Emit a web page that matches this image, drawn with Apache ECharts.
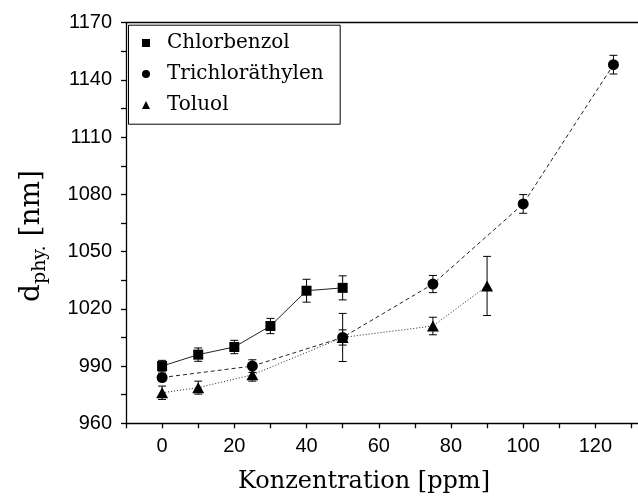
<!DOCTYPE html>
<html>
<head>
<meta charset="utf-8">
<script src="https://cdn.jsdelivr.net/npm/echarts@6/dist/echarts.min.js"></script>
<style>
  html, body { margin: 0; padding: 0; background: #fff; }
  #chart { width: 638px; height: 502px; }
</style>
</head>
<body>
<div id="chart"></div>
<script>
// Particle diameter vs. solvent concentration, three solvents, with error bars
const seriesNames = ['Chlorbenzol', 'Trichloräthylen', 'Toluol'];

const chlorConc = [0, 10, 20, 30, 40, 50];
const chlorDiam = [990, 996, 1000, 1011, 1029.5, 1031];
const chlorErr  = [3, 3.5, 3.5, 4, 6, 6.3];

const triConc = [0, 25, 50, 75, 100, 125];
const triDiam = [984, 990, 1005, 1033, 1075, 1148];
const triErr  = [2, 3.3, 12.6, 4.5, 4.9, 4.9];

const tolConc = [0, 10, 25, 50, 75, 90];
const tolDiam = [976, 978.7, 985.4, 1005, 1011, 1032];
const tolErr  = [3.5, 3.4, 3.3, 4, 4.6, 15.5];

// axis ticks and labels
const xTicks  = [-10, 0, 10, 20, 30, 40, 50, 60, 70, 80, 90, 100, 110, 120, 130];
const xLabels = [0, 20, 40, 60, 80, 100, 120];
const yTicks  = [960, 975, 990, 1005, 1020, 1035, 1050, 1065, 1080, 1095, 1110, 1125, 1140, 1155, 1170];
const yLabels = [960, 990, 1020, 1050, 1080, 1110, 1140, 1170];

const serif = 'DejaVu Serif';
const sans = 'Liberation Sans';
const ink = '#000';
const lineInk = '#222';

function pairs(xs, ys) { return xs.map((x, i) => [x, ys[i]]); }
function bars(xs, ys, es) { return xs.map((x, i) => [x, ys[i] - es[i], ys[i] + es[i]]); }

function renderErrorBar(params, api) {
  const x = api.value(0);
  const lo = api.coord([x, api.value(1)]);
  const hi = api.coord([x, api.value(2)]);
  const cap = 4;
  const style = { stroke: ink, lineWidth: 1 };
  return {
    type: 'group',
    children: [
      { type: 'line', shape: { x1: lo[0], y1: lo[1], x2: hi[0], y2: hi[1] }, style },
      { type: 'line', shape: { x1: lo[0] - cap, y1: lo[1], x2: lo[0] + cap, y2: lo[1] }, style },
      { type: 'line', shape: { x1: hi[0] - cap, y1: hi[1], x2: hi[0] + cap, y2: hi[1] }, style }
    ]
  };
}

function errorSeries(xs, ys, es) {
  return {
    type: 'custom',
    renderItem: renderErrorBar,
    data: bars(xs, ys, es),
    encode: { x: 0, y: [1, 2] },
    silent: true,
    z: 3
  };
}

const plain = v => String(v);

const chart = echarts.init(document.getElementById('chart'), null, { renderer: 'canvas' });

chart.setOption({
  animation: false,
  backgroundColor: '#fff',
  grid: { left: 126, top: 22.7, right: 0, bottom: 78.7, containLabel: false },
  graphic: [{
    type: 'rect',
    left: 126, top: 22.7,
    shape: { width: 211.7, height: 99 },
    style: { fill: 'none', stroke: ink, lineWidth: 1 },
    z: 10
  }],
  legend: {
    orient: 'vertical',
    left: 142, top: 31,
    padding: 0,
    itemGap: 7,
    itemWidth: 8, itemHeight: 8,
    textStyle: { fontFamily: serif, fontSize: 20, color: ink, lineHeight: 24, padding: [0, 0, 0, 12] },
    data: [
      { name: seriesNames[0], icon: 'rect' },
      { name: seriesNames[1], icon: 'circle' },
      { name: seriesNames[2], icon: 'triangle' }
    ]
  },
  xAxis: [{
    type: 'value',
    min: -10, max: 131.8,
    position: 'bottom',
    axisLine: { onZero: false, lineStyle: { color: ink, width: 1.3 } },
    axisTick: { inside: false, length: 5, customValues: xTicks, lineStyle: { color: ink, width: 1.3 } },
    axisLabel: {
      margin: 13, fontFamily: sans, fontSize: 20, color: ink,
      customValues: xLabels, formatter: plain
    },
    splitLine: { show: false },
    name: 'Konzentration [ppm]',
    nameLocation: 'middle',
    nameGap: 46,
    nameTextStyle: { fontFamily: serif, fontSize: 24, color: ink, padding: [0, 36, 0, 0] }
  }, {
    type: 'value',
    min: -10, max: 131.8,
    position: 'top',
    axisLine: { onZero: false, lineStyle: { color: ink, width: 1.3 } },
    axisTick: { show: false },
    axisLabel: { show: false },
    splitLine: { show: false }
  }],
  yAxis: {
    type: 'value',
    min: 960, max: 1170,
    position: 'left',
    axisLine: { show: true, onZero: false, lineStyle: { color: ink, width: 1.3 } },
    axisTick: { show: true, inside: false, length: 5, customValues: yTicks, lineStyle: { color: ink, width: 1.3 } },
    axisLabel: {
      margin: 14, fontFamily: sans, fontSize: 20, color: ink,
      customValues: yLabels, formatter: plain
    },
    splitLine: { show: false },
    name: '{m|d}{s|phy.}{m| [nm]}',
    nameLocation: 'middle',
    nameRotate: 90,
    nameGap: 76,
    nameTextStyle: {
      padding: [0, 26, 0, 0],
      rich: {
        m: { fontFamily: serif, fontSize: 28, color: ink, verticalAlign: 'top' },
        s: { fontFamily: serif, fontSize: 19, color: ink, verticalAlign: 'top', padding: [13, 0, 0, 0] }
      }
    }
  },
  series: [
    {
      name: seriesNames[0], type: 'line',
      data: pairs(chlorConc, chlorDiam),
      symbol: 'rect', symbolSize: 10,
      itemStyle: { color: ink },
      lineStyle: { color: lineInk, width: 1, type: 'solid' },
      z: 4
    },
    {
      name: seriesNames[1], type: 'line',
      data: pairs(triConc, triDiam),
      symbol: 'circle', symbolSize: 11,
      itemStyle: { color: ink },
      lineStyle: { color: lineInk, width: 1, type: [4, 3] },
      z: 4
    },
    {
      name: seriesNames[2], type: 'line',
      data: pairs(tolConc, tolDiam),
      symbol: 'triangle', symbolSize: [12, 11],
      itemStyle: { color: ink },
      lineStyle: { color: lineInk, width: 1, type: [1, 2] },
      z: 4
    },
    errorSeries(chlorConc, chlorDiam, chlorErr),
    errorSeries(triConc, triDiam, triErr),
    errorSeries(tolConc, tolDiam, tolErr)
  ]
});
</script>
</body>
</html>
